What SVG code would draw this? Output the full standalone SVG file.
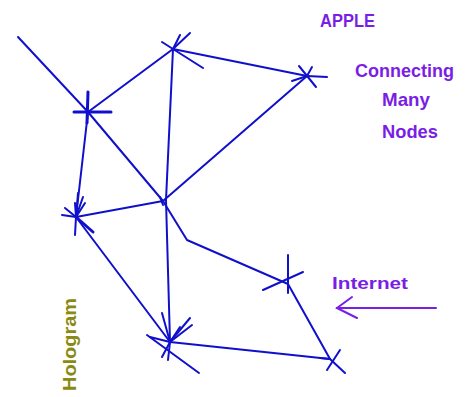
<svg xmlns="http://www.w3.org/2000/svg" width="471" height="397" viewBox="0 0 471 397">
<style>
.e{stroke:#1010cc;stroke-width:2;fill:none;stroke-linecap:round;stroke-linejoin:round}
.s{stroke:#1010cc;stroke-width:2;fill:none;stroke-linecap:round}
.t{fill:#7a1ee6;font-family:"Liberation Sans",Arial,sans-serif;font-weight:bold}
.h{fill:#8a8a12;font-family:"Liberation Sans",Arial,sans-serif;font-weight:bold}
</style>
<rect width="471" height="397" fill="#ffffff"/>
<g id="connectors">
<polyline class="e" points="18,37 88,112 163,201 187,240 288,284"/>
<line class="e" x1="88" y1="112" x2="173" y2="49"/>
<line class="e" x1="173" y1="49" x2="307" y2="76"/>
<polyline class="e" points="173,49 166,200 170,342"/>
<line class="e" x1="307" y1="76" x2="163" y2="201"/>
<line class="e" x1="88" y1="112" x2="76" y2="217"/>
<line class="e" x1="76" y1="217" x2="163" y2="201"/>
<line class="e" x1="76" y1="217" x2="170" y2="342"/>
<line class="e" x1="147" y1="335" x2="199" y2="373"/>
<line class="e" x1="170" y1="342" x2="330" y2="359"/>
<line class="e" x1="288" y1="284" x2="330" y2="359"/>
</g>
<g id="node-a">
<line class="s" x1="74" y1="112" x2="111" y2="112" style="stroke-width:3"/>
<line class="s" x1="88" y1="92" x2="87" y2="123" style="stroke-width:3"/>
</g>
<g id="node-b">
<line class="s" x1="162" y1="42" x2="173" y2="49"/>
<line class="s" x1="180" y1="35" x2="173" y2="49"/>
<line class="s" x1="190" y1="33" x2="173" y2="49"/>
<line class="s" x1="203" y1="68" x2="173" y2="49"/>
</g>
<g id="node-c">
<line class="s" x1="307" y1="76" x2="327" y2="77"/>
<line class="s" x1="299" y1="66" x2="316" y2="87"/>
<line class="s" x1="292" y1="81" x2="307" y2="76"/>
<line class="s" x1="312" y1="67" x2="307" y2="76"/>
</g>
<g id="node-d">
<line class="s" x1="62" y1="215" x2="76" y2="217"/>
<line class="s" x1="65" y1="208" x2="76" y2="217"/>
<line class="s" x1="75" y1="203" x2="76" y2="217"/>
<line class="s" x1="78" y1="193" x2="76" y2="217"/>
<line class="s" x1="83" y1="197" x2="76" y2="217"/>
<line class="s" x1="85" y1="203" x2="76" y2="217"/>
<line class="s" x1="75" y1="235" x2="76" y2="217"/>
<line class="s" x1="93" y1="232" x2="76" y2="217" style="stroke-width:3"/>
</g>
<g id="node-e">
<line class="s" x1="160" y1="197" x2="163" y2="205"/>
</g>
<g id="node-g">
<line class="s" x1="288" y1="255" x2="288" y2="293"/>
<line class="s" x1="303" y1="272" x2="263" y2="290"/>
</g>
<g id="node-h">
<line class="s" x1="162" y1="313" x2="170" y2="342"/>
<line class="s" x1="180" y1="327" x2="170" y2="342"/>
<line class="s" x1="190" y1="318" x2="170" y2="342"/>
<line class="s" x1="192" y1="325" x2="170" y2="342"/>
<line class="s" x1="162" y1="357" x2="170" y2="342"/>
<line class="s" x1="168" y1="360" x2="170" y2="342"/>
<line class="s" x1="150" y1="337" x2="170" y2="342"/>
</g>
<g id="node-i">
<line class="s" x1="340" y1="350" x2="327" y2="370"/>
<line class="s" x1="345" y1="373" x2="330" y2="359"/>
<line class="s" x1="320" y1="358" x2="330" y2="359"/>
</g>
<g id="labels">
<text class="t" x="320" y="27" font-size="18" textLength="55" lengthAdjust="spacingAndGlyphs">APPLE</text>
<text class="t" x="355" y="77" font-size="19" textLength="99" lengthAdjust="spacingAndGlyphs">Connecting</text>
<text class="t" x="382" y="106" font-size="19" textLength="48" lengthAdjust="spacingAndGlyphs">Many</text>
<text class="t" x="382" y="138" font-size="19" textLength="56" lengthAdjust="spacingAndGlyphs">Nodes</text>
<text class="t" x="332" y="289" font-size="17" textLength="76" lengthAdjust="spacingAndGlyphs">Internet</text>
<text class="h" transform="translate(76,391) rotate(-90)" font-size="18" textLength="93" lengthAdjust="spacingAndGlyphs">Hologram</text>
</g>
<g id="arrow" stroke="#7a1ee6" stroke-width="2" fill="none" stroke-linecap="round">
<line x1="436" y1="308" x2="337" y2="308"/>
<polyline points="352,297 337,308 357,318"/>
</g>
</svg>
